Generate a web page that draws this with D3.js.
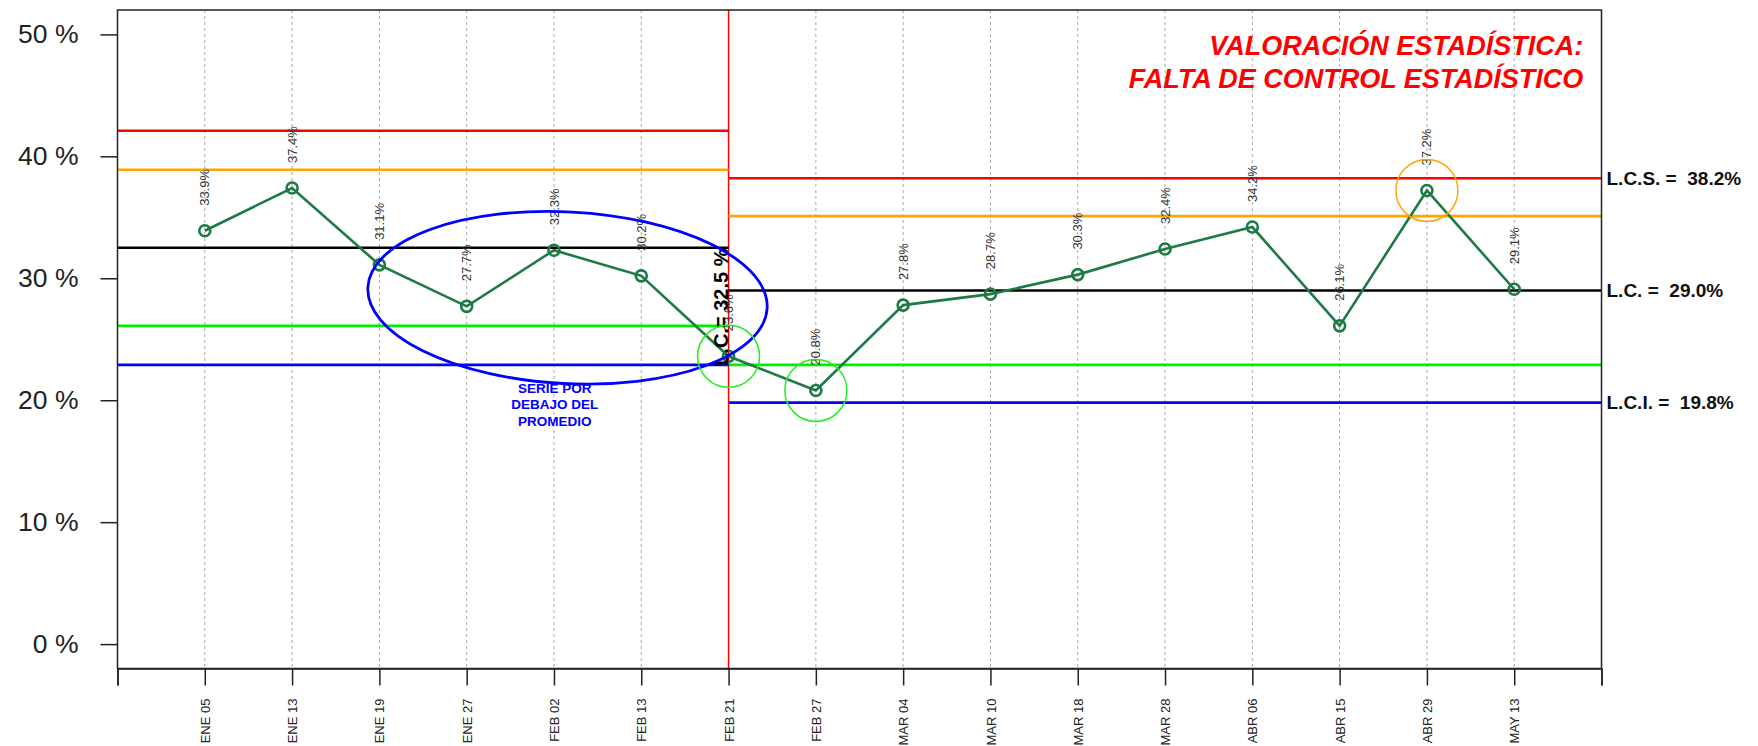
<!DOCTYPE html>
<html>
<head>
<meta charset="utf-8">
<script src="https://cdn.jsdelivr.net/npm/d3@7"></script>
<style>
  html, body { margin: 0; padding: 0; background: #fff; }
  svg { display: block; font-family: "Liberation Sans", Arial, Helvetica, sans-serif; }
</style>
</head>
<body>
<svg id="chart" width="1758" height="746"></svg>
<script>
// ---------- data ----------
const categories = ["ENE 05","ENE 13","ENE 19","ENE 27","FEB 02","FEB 13","FEB 21","FEB 27",
                    "MAR 04","MAR 10","MAR 18","MAR 28","ABR 06","ABR 15","ABR 29","MAY 13"];
const values = [33.9, 37.4, 31.1, 27.7, 32.3, 30.2, 23.6, 20.8,
                27.8, 28.7, 30.3, 32.4, 34.2, 26.1, 37.2, 29.1];
const yTicks = [0, 10, 20, 30, 40, 50];

// control limits per phase (phase boundaries in category positions)
const phaseStart = [0, 7];
const phaseEnd   = [7, 17];
const lcsValues  = [42.1, 38.2];
const upperWarn  = [38.9, 35.1];
const lcValues   = [32.5, 29.0];
const lowerWarn  = [26.1, 22.9];
const lciValues  = [22.9, 19.8];
const phaseSplit = 7;

const titleLines = ["VALORACIÓN ESTADÍSTICA:", "FALTA DE CONTROL ESTADÍSTICO"];
const noteLines  = ["SERIE POR", "DEBAJO DEL", "PROMEDIO"];
const greenMarked = [7, 8];
const orangeMarked = [15];

// ---------- layout ----------
const svg = d3.select("#chart");
const plotLeft = 117.5, plotRight = 1601.5, plotTop = 10, plotBottom = 668.5;

const x = d3.scaleLinear().domain([0, 17]).range([plotLeft, plotRight]);
const y = d3.scaleLinear().domain([-2, 52]).range([plotBottom, plotTop]);

const pos = i => i + 1; // category index -> x position

// vertical dotted grid
svg.append("g").selectAll("line").data(categories).join("line")
  .attr("x1", (d, i) => x(pos(i))).attr("x2", (d, i) => x(pos(i)))
  .attr("y1", plotTop).attr("y2", plotBottom)
  .attr("stroke", "#a8a8a8").attr("stroke-width", 1).attr("stroke-dasharray", "3,3");

// phase split line
svg.append("line")
  .attr("x1", x(phaseSplit)).attr("x2", x(phaseSplit))
  .attr("y1", plotTop).attr("y2", plotBottom)
  .attr("stroke", "#ff0000").attr("stroke-width", 1.5);

// control lines
const limitSets = [
  {vals: lcsValues, color: "#ff0000"},
  {vals: upperWarn, color: "#ffa500"},
  {vals: lcValues,  color: "#000000"},
  {vals: lowerWarn, color: "#00ee00"},
  {vals: lciValues, color: "#0000ff"}
];
const gLim = svg.append("g");
limitSets.forEach(s => {
  s.vals.forEach((v, p) => {
    gLim.append("line")
      .attr("x1", x(phaseStart[p])).attr("x2", x(phaseEnd[p]))
      .attr("y1", y(v)).attr("y2", y(v))
      .attr("stroke", s.color).attr("stroke-width", 2.6);
  });
});

// axes
const yAxis = d3.axisLeft(y).tickValues(yTicks).tickSize(17).tickPadding(22)
  .tickFormat(d => d + " %");
const gy = svg.append("g").attr("transform", `translate(${plotLeft},0)`).call(yAxis);
gy.select(".domain").remove();
gy.selectAll(".tick line").attr("stroke", "#222").attr("stroke-width", 1.5);
gy.selectAll(".tick text").attr("font-size", 26.5).attr("fill", "#222")
  .attr("font-family", "'Liberation Sans', Arial, sans-serif");

const xAxis = d3.axisBottom(x).tickValues(d3.range(0, 18)).tickSize(17)
  .tickFormat(i => (i >= 1 && i <= categories.length) ? categories[i - 1] : "");
const gx = svg.append("g").attr("transform", `translate(0,${plotBottom})`).call(xAxis);
gx.select(".domain").attr("stroke", "#222").attr("stroke-width", 1.5);
gx.selectAll(".tick line").attr("stroke", "#222").attr("stroke-width", 1.5);
gx.selectAll(".tick text")
  .attr("font-size", 13).attr("fill", "#222")
  .attr("font-family", "'Liberation Sans', Arial, sans-serif")
  .attr("text-anchor", "end")
  .attr("transform", "translate(0,30) rotate(-90)")
  .attr("x", 0).attr("y", 0).attr("dy", "0.35em");

// plot box
svg.append("rect").attr("x", plotLeft).attr("y", plotTop)
  .attr("width", plotRight - plotLeft).attr("height", plotBottom - plotTop)
  .attr("fill", "none").attr("stroke", "#222").attr("stroke-width", 1.5);

// data line
const line = d3.line().x((d, i) => x(pos(i))).y(d => y(d));
svg.append("path").datum(values).attr("d", line)
  .attr("fill", "none").attr("stroke", "#1d7a45").attr("stroke-width", 2.6);
svg.append("g").selectAll("circle").data(values).join("circle")
  .attr("cx", (d, i) => x(pos(i))).attr("cy", d => y(d)).attr("r", 5.5)
  .attr("fill", "none").attr("stroke", "#1d7a45").attr("stroke-width", 2.6);

// point labels
svg.append("g").selectAll("text").data(values).join("text")
  .attr("transform", (d, i) => `translate(${x(pos(i))},${y(d) - 25}) rotate(-90)`)
  .attr("dy", "0.35em").attr("text-anchor", "start")
  .attr("font-size", 13).attr("fill", "#333")
  .text(d => d.toFixed(1) + "%");

// phase 1 central line label (vertical)
svg.append("text")
  .attr("transform", `translate(${x(phaseSplit) - 1},${y(lciValues[0]) + 1}) rotate(-90)`)
  .attr("text-anchor", "start").attr("font-size", 20).attr("font-weight", "bold")
  .attr("fill", "#000")
  .text("L.C.= " + lcValues[0].toFixed(1) + " %");

// right-hand labels
const rightLabels = [
  {txt: "L.C.S. =  " + lcsValues[1].toFixed(1) + "%", v: lcsValues[1]},
  {txt: "L.C. =  " + lcValues[1].toFixed(1) + "%", v: lcValues[1]},
  {txt: "L.C.I. =  " + lciValues[1].toFixed(1) + "%", v: lciValues[1]}
];
svg.append("g").selectAll("text").data(rightLabels).join("text")
  .attr("x", plotRight + 5).attr("y", d => y(d.v)).attr("dy", "0.35em")
  .attr("font-size", 19).attr("font-weight", "bold").attr("fill", "#111")
  .style("white-space", "pre")
  .text(d => d.txt);

// title
svg.append("g").selectAll("text").data(titleLines).join("text")
  .attr("x", x(16.79)).attr("y", (d, i) => y(48.3) + i * 33)
  .attr("text-anchor", "end").attr("font-size", 27)
  .attr("font-weight", "bold").attr("font-style", "italic").attr("fill", "#ff0000")
  .text(d => d);

// annotations: blue ellipse
const ell = {cx: 5.155, cy: 28.4, rx: 2.29, ry: 7.04, angle: 3};
svg.append("ellipse")
  .attr("transform", `translate(${x(ell.cx)},${y(ell.cy)}) rotate(${ell.angle})`)
  .attr("rx", x(ell.cx + ell.rx) - x(ell.cx)).attr("ry", y(ell.cy - ell.ry) - y(ell.cy))
  .attr("fill", "none").attr("stroke", "#0000ff").attr("stroke-width", 2.8);

svg.append("g").selectAll("text").data(noteLines).join("text")
  .attr("x", x(5.01)).attr("y", (d, i) => y(20.6) + i * 16.5)
  .attr("text-anchor", "middle").attr("font-size", 13.5).attr("font-weight", "bold")
  .attr("fill", "#0000ff").text(d => d);

// highlight circles
svg.append("g").selectAll("circle").data(greenMarked).join("circle")
  .attr("cx", i => x(i)).attr("cy", i => y(values[i - 1])).attr("r", 31)
  .attr("fill", "none").attr("stroke", "#22ee22").attr("stroke-width", 1.5);
svg.append("g").selectAll("circle").data(orangeMarked).join("circle")
  .attr("cx", i => x(i)).attr("cy", i => y(values[i - 1])).attr("r", 31)
  .attr("fill", "none").attr("stroke", "#ffa500").attr("stroke-width", 1.5);
</script>
</body>
</html>
